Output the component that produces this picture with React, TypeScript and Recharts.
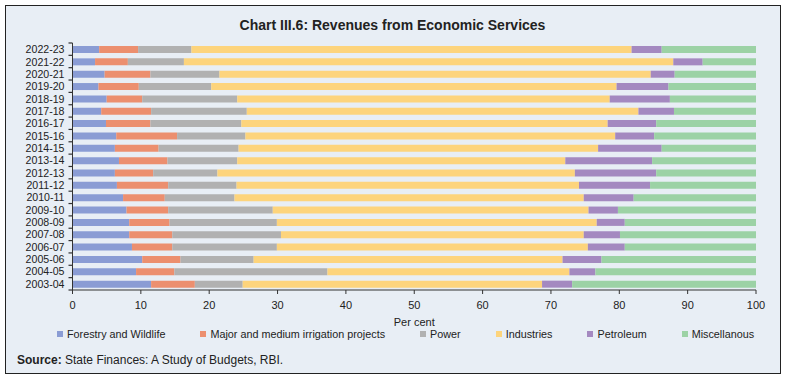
import React from 'react';
import { BarChart, Bar, XAxis, YAxis } from 'recharts';

// categories, top to bottom
const YEARS = [
  '2022-23', '2021-22', '2020-21', '2019-20', '2018-19', '2017-18', '2016-17',
  '2015-16', '2014-15', '2013-14', '2012-13', '2011-12', '2010-11', '2009-10',
  '2008-09', '2007-08', '2006-07', '2005-06', '2004-05', '2003-04',
];

// shares in per cent, same order as YEARS
const FORESTRY = [3.9, 3.3, 4.7, 3.8, 5.0, 4.2, 4.9, 6.4, 6.2, 6.8, 6.2, 6.5, 7.4, 7.9, 8.3, 8.3, 8.7, 10.2, 9.3, 11.5];
const IRRIGATION = [5.7, 4.8, 6.7, 5.9, 5.2, 7.3, 6.5, 8.9, 6.4, 7.1, 5.6, 7.5, 6.1, 6.1, 5.9, 6.3, 5.9, 5.6, 5.6, 6.4];
const POWER = [7.8, 8.2, 10.1, 10.6, 13.9, 14.0, 13.3, 10.0, 11.7, 10.2, 9.4, 10.0, 10.2, 15.3, 15.7, 15.9, 15.3, 10.7, 22.4, 7.0];
const INDUSTRIES = [64.4, 71.6, 63.1, 59.3, 54.5, 57.3, 53.6, 54.1, 52.6, 48.0, 52.3, 50.1, 51.1, 46.2, 46.8, 44.3, 45.5, 45.2, 35.4, 43.8];
const PETROLEUM = [4.4, 4.3, 3.5, 7.6, 8.8, 5.2, 7.1, 5.7, 9.3, 12.7, 11.9, 10.4, 7.3, 4.3, 4.1, 5.3, 5.4, 5.7, 3.8, 4.4];
const MISC = [13.8, 7.8, 11.9, 12.8, 12.6, 12.0, 14.6, 14.9, 13.8, 15.2, 14.6, 15.5, 17.9, 20.2, 19.2, 19.9, 19.2, 22.6, 23.5, 26.9];

const X_TICKS = [0, 10, 20, 30, 40, 50, 60, 70, 80, 90, 100];

const SERIES = [
  { key: 'forestry', name: 'Forestry and Wildlife', values: FORESTRY, color: '#8a9cd4' },
  { key: 'irrigation', name: 'Major and medium irrigation projects', values: IRRIGATION, color: '#ec8f6f' },
  { key: 'power', name: 'Power', values: POWER, color: '#b1b1b1' },
  { key: 'industries', name: 'Industries', values: INDUSTRIES, color: '#fdd47c' },
  { key: 'petroleum', name: 'Petroleum', values: PETROLEUM, color: '#a489c0' },
  { key: 'misc', name: 'Miscellanous', values: MISC, color: '#9cd2a5' },
];

const data = YEARS.map((year, i) => {
  const row: Record<string, string | number> = { year };
  SERIES.forEach(s => { row[s.key] = s.values[i]; });
  return row;
});

const FONT = '"Liberation Sans", Arial, sans-serif';
const TEXT = '#222';
const AXIS = '#333';
const BAND = 247.6 / YEARS.length;

const YearTick = (props: any) => {
  const { x, y, payload, index } = props;
  const ax = x + 8;
  return (
    <g>
      <text x={x} y={y} textAnchor="end" dominantBaseline="central" fontSize={10.6} fill={TEXT} fontFamily={FONT}>
        {payload.value}
      </text>
      <line x1={ax - 4} x2={ax} y1={y - BAND / 2} y2={y - BAND / 2} stroke={AXIS} strokeWidth={1.2} />
      {index === YEARS.length - 1 && (
        <line x1={ax - 4} x2={ax} y1={y + BAND / 2} y2={y + BAND / 2} stroke={AXIS} strokeWidth={1.2} />
      )}
    </g>
  );
};

export default function App() {
  return (
    <div style={{ position: 'absolute', left: 0, top: 0, width: 785, height: 377, background: '#fff', fontFamily: FONT }}>
      <div
        style={{
          position: 'absolute', left: 5, top: 5, width: 776, height: 369, boxSizing: 'border-box',
          border: '1.5px solid #222', background: '#e8eef5',
        }}
      />
      <div style={{ position: 'absolute', left: 0, top: 17, width: 785, textAlign: 'center', fontSize: 14, fontWeight: 'bold', color: TEXT }}>
        Chart III.6: Revenues from Economic Services
      </div>
      <div style={{ position: 'absolute', left: 0, top: 0 }}>
        <BarChart
          width={785}
          height={340}
          data={data}
          layout="vertical"
          margin={{ top: 43, right: 29, left: 0, bottom: 14 }}
          barSize={7}
        >
          <XAxis
            type="number"
            domain={[0, 100]}
            ticks={X_TICKS}
            interval={0}
            height={36}
            tickSize={4}
            tickMargin={7}
            stroke={AXIS}
            tick={{ fontSize: 11, fill: TEXT, fontFamily: FONT }}
            label={{ value: 'Per cent', position: 'insideBottom', offset: 0, fontSize: 11, fill: TEXT, fontFamily: FONT }}
          />
          <YAxis
            type="category"
            dataKey="year"
            width={72.5}
            tickLine={false}
            stroke={AXIS}
            interval={0}
            tick={<YearTick />}
          />
          {SERIES.map(s => (
            <Bar key={s.key} dataKey={s.key} name={s.name} stackId="a" fill={s.color} isAnimationActive={false} />
          ))}
        </BarChart>
      </div>
      <div style={{ position: 'absolute', left: 57, top: 328, display: 'flex', gap: 35, fontSize: 10.8, color: TEXT }}>
        {SERIES.map(s => (
          <div key={s.key} style={{ display: 'flex', alignItems: 'center' }}>
            <div style={{ width: 6, height: 6, background: s.color, marginRight: 4 }} />
            {s.name}
          </div>
        ))}
      </div>
      <div style={{ position: 'absolute', left: 17, top: 353, fontSize: 12, color: TEXT }}>
        <b>Source:</b> State Finances: A Study of Budgets, RBI.
      </div>
    </div>
  );
}
